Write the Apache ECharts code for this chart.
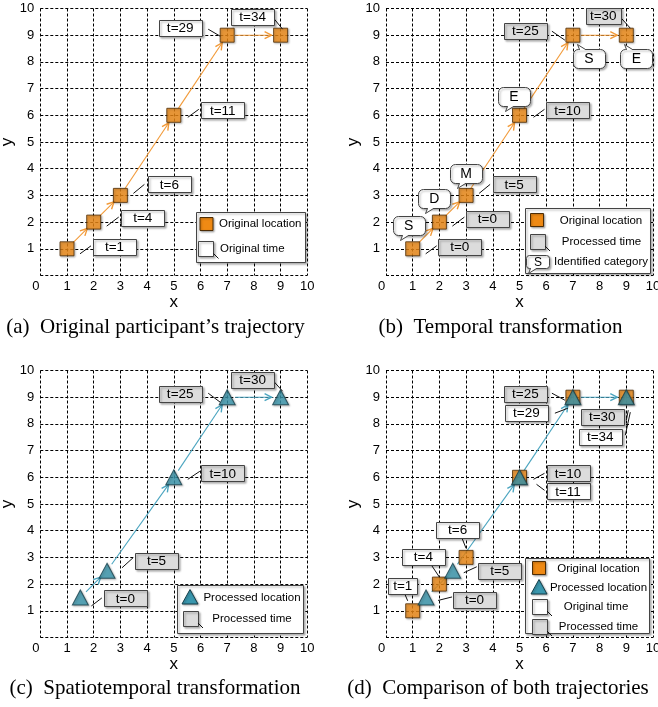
<!DOCTYPE html>
<html><head><meta charset="utf-8">
<script src="https://cdn.jsdelivr.net/npm/echarts@6/dist/echarts.min.js"></script>
<style>html,body{margin:0;padding:0;background:#fff}#c{width:658px;height:707px}</style>
</head><body><div id="c"></div>
<script>
// ---------------- data ----------------
const origX = [1, 2, 3, 5, 7, 9];
const origY = [1, 2, 3, 6, 9, 9];
const origTime = [1, 4, 6, 11, 29, 34];
const tempTime = [0, 0, 5, 10, 25, 30];
const tempCategory = ['S', 'D', 'M', 'E', 'S', 'E'];
const procX = [1.5, 2.5, 5, 7, 9];
const procY = [1.5, 2.5, 6, 9, 9];
const procTime = [0, 5, 10, 25, 30];
const captions = ['(a)  Original participant\u2019s trajectory', '(b)  Temporal transformation',
                  '(c)  Spatiotemporal transformation', '(d)  Comparison of both trajectories'];
const legendA = ['Original location', 'Original time'];
const legendB = ['Original location', 'Processed time', 'Identified category'];
const legendC = ['Processed location', 'Processed time'];
const legendD = ['Original location', 'Processed location', 'Original time', 'Processed time'];

// ---------------- styles / layout ----------------
const SANS = '"Liberation Sans", Arial, sans-serif';
const SERIF = '"Liberation Serif", "Times New Roman", serif';
const ORANGE = '#EF8A14', ORANGE_LINE = '#F29A38', ORANGE_EDGE = '#4d2c05';
const TEAL = '#3A97AE', TEAL_LINE = '#4BA5C0', TEAL_EDGE = '#163f4a';
const WHITE_BOX = '#ffffff', GRAY_BOX = '#dcdcdc';
const GRIDS = [
  {left: 40.3, top: 8.5, width: 267, height: 267},
  {left: 386, top: 8.5, width: 267, height: 267},
  {left: 40.3, top: 370.5, width: 267, height: 267},
  {left: 386, top: 370.5, width: 267, height: 267}
];
// callout layout: box centre offset from marker (px), box width, leader line offsets [x1,y1,x2,y2]
const LAY_A = [
  {dx: 47.5, dy: -2, w: 43, l: [13, 5, 24, -3]},
  {dx: 49, dy: -4, w: 43, l: [13, 4, 25, -5]},
  {dx: 49, dy: -11, w: 43, l: [13, -2, 24, -11]},
  {dx: 49, dy: -5, w: 43, l: [14, 2, 25, -6]},
  {dx: -47, dy: -7, w: 43, l: [-19, -6, -7, 1]},
  {dx: -28, dy: -18, w: 43, l: [-7, -17, 2, -6]}
];
const LAY_B = [
  {dx: 47, dy: -2, w: 43, l: [13, 5, 24, -3]},
  {dx: 48, dy: -3.5, w: 43, l: [13, 4, 25, -5]},
  {dx: 48, dy: -11, w: 43, l: [13, -2, 24, -11]},
  {dx: 48, dy: -5, w: 43, l: [14, 2, 25, -6]},
  {dx: -47.5, dy: -4, w: 43, l: [-21, -4, -8, 5]},
  {dx: -23, dy: -19, w: 35, l: [-5, -17, 4, -7]}
];
const LAY_BUBBLE = [
  {dx: -4, dy: -23, side: 'bottom'},
  {dx: -5, dy: -23.5, side: 'bottom'},
  {dx: 0, dy: -22, side: 'bottom'},
  {dx: -5.5, dy: -19, side: 'bottom'},
  {dx: 16, dy: 23, side: 'top'},
  {dx: 10, dy: 23, side: 'top'}
];
const LAY_C = [
  {dx: 45, dy: 1, w: 43, l: [11, 8.5, 21.5, 0.5]},
  {dx: 49.5, dy: -10, w: 43, l: [15, -3, 26, -13]},
  {dx: 49, dy: -4, w: 43, l: [14, 2, 26, -6]},
  {dx: -47, dy: -3, w: 43, l: [-19, -4, -7, 5]},
  {dx: -28, dy: -17, w: 43, l: [-7, -16, 2, -6]}
];
const LAY_D_ORIG = [
  {dx: -10, dy: -25, w: 29, l: [-8, -17, -5, -10]},
  {dx: -16, dy: -27.5, w: 43, l: [-8, -19, 0, -7]},
  {dx: -8.5, dy: -27.5, w: 43, l: [-4, -19, 0, -9]},
  {dx: 48.5, dy: 14, w: 43, l: [17, 7, 25, 13]},
  {dx: -46.5, dy: 16, w: 43, l: [-18, 16, -5, 11]},
  {dx: -26, dy: 40, w: 43, l: [4, 15, -1, 38]}
];
const LAY_D_PROC = [
  {dx: 48.5, dy: 2.5, w: 43, l: [12, 3, 26, -0.5]},
  {dx: 47, dy: 0, w: 43, l: [11, 2, 24, -4]},
  {dx: 48.5, dy: -4, w: 43, l: [14, 2, 25, -4]},
  {dx: -47.5, dy: -3, w: 43, l: [-21, -4, -8, 3]},
  {dx: -24, dy: 20, w: 43, l: [2, 13, 0, 23]}
];

const SHADOW = {shadowBlur: 2, shadowOffsetX: 1.5, shadowOffsetY: 1.5, shadowColor: 'rgba(0,0,0,0.3)'};

// ---------------- helpers ----------------
function xAxisFor(i) {
  return {
    type: 'value', gridIndex: i, min: 0, max: 10, interval: 1,
    name: 'x', nameLocation: 'middle', nameGap: 11,
    nameTextStyle: {fontSize: 17, color: '#000', fontFamily: SANS},
    axisLine: {show: false}, axisTick: {show: false},
    splitLine: {show: true, lineStyle: {color: '#000', width: 1, type: [3, 2]}},
    axisLabel: {
      color: '#000', fontSize: 13, fontFamily: SANS, margin: 4,
      formatter: v => v === 0 ? '{z|0}' : String(v),
      rich: {z: {padding: [0, 9, 0, 0], fontSize: 13, fontFamily: SANS, color: '#000'}}
    }
  };
}
function yAxisFor(i) {
  return {
    type: 'value', gridIndex: i, min: 0, max: 10, interval: 1,
    name: 'y', nameLocation: 'middle', nameGap: 16,
    nameTextStyle: {fontSize: 17, color: '#000', fontFamily: SANS},
    axisLine: {show: false}, axisTick: {show: false},
    splitLine: {show: true, lineStyle: {color: '#000', width: 1, type: [3, 2]}},
    axisLabel: {color: '#000', fontSize: 13, fontFamily: SANS, margin: 6,
      formatter: v => v === 0 ? '' : String(v)}
  };
}
function segments(xs, ys) {
  const out = [];
  for (let i = 0; i < xs.length - 1; i++) out.push([xs[i], ys[i], xs[i + 1], ys[i + 1]]);
  return out;
}
function arrowSeries(g, xs, ys, color) {
  return {
    type: 'custom', xAxisIndex: g, yAxisIndex: g, z: 3, clip: false,
    encode: {x: [0, 2], y: [1, 3]},
    data: segments(xs, ys),
    renderItem: function (params, api) {
      const a = api.coord([api.value(0), api.value(1)]);
      const b = api.coord([api.value(2), api.value(3)]);
      const dx = b[0] - a[0], dy = b[1] - a[1];
      const len = Math.sqrt(dx * dx + dy * dy);
      const ux = dx / len, uy = dy / len;
      const s = [a[0] + ux * 8, a[1] + uy * 8];
      const e = [b[0] - ux * 9, b[1] - uy * 9];
      const hl = 7, hw = 3.5;
      const p1 = [e[0] - ux * hl - uy * hw, e[1] - uy * hl + ux * hw];
      const p2 = [e[0] - ux * hl + uy * hw, e[1] - uy * hl - ux * hw];
      return {type: 'group', children: [
        {type: 'line', shape: {x1: s[0], y1: s[1], x2: e[0], y2: e[1]}, style: {stroke: color, lineWidth: 1.1}},
        {type: 'polyline', shape: {points: [p1, e, p2]}, style: {stroke: color, lineWidth: 1.4, fill: null}}
      ]};
    }
  };
}
function markerSeries(g, xs, ys, kind) {
  const sq = kind === 'square';
  return {
    type: 'scatter', xAxisIndex: g, yAxisIndex: g, z: sq ? 5 : 6, silent: true,
    symbol: sq ? 'rect' : 'triangle', symbolSize: sq ? 14 : [16, 15],
    itemStyle: {color: sq ? ORANGE : TEAL, borderColor: sq ? ORANGE_EDGE : TEAL_EDGE, borderWidth: 1,
      shadowBlur: 2, shadowOffsetX: 1, shadowOffsetY: 1, shadowColor: 'rgba(0,0,0,0.3)'},
    data: xs.map((x, i) => [x, ys[i]])
  };
}
function boxSeries(g, xs, ys, times, layout, fill) {
  return {
    type: 'custom', xAxisIndex: g, yAxisIndex: g, z: 8, clip: false,
    encode: {x: 0, y: 1},
    data: xs.map((x, i) => [x, ys[i], times[i]]),
    renderItem: function (params, api) {
      const L = layout[params.dataIndex];
      const p = api.coord([api.value(0), api.value(1)]);
      const cx = p[0] + L.dx, cy = p[1] + L.dy, w = L.w, h = 16;
      return {type: 'group', children: [
        {type: 'line', shape: {x1: p[0] + L.l[0], y1: p[1] + L.l[1], x2: p[0] + L.l[2], y2: p[1] + L.l[3]},
          style: {stroke: '#111', lineWidth: 1}},
        {type: 'rect', shape: {x: Math.round(cx - w / 2) + 0.5, y: Math.round(cy - h / 2) + 0.5, width: w, height: h},
          style: Object.assign({fill: fill, stroke: '#444', lineWidth: 1}, SHADOW)},
        {type: 'text', x: cx, y: cy + 0.5,
          style: {text: 't=' + api.value(2), fill: '#000', font: '13.5px ' + SANS, align: 'center', verticalAlign: 'middle'}}
      ]};
    }
  };
}
// speech bubble: rounded rect + small tail (built from rect/polygon/polyline primitives)
function bubbleParts(x, y, w, h, side, tx, r, z) {
  const td = 5, tw = 6;
  const base = side === 'top' ? y : y + h;
  const tip = side === 'top' ? y - td : y + h + td;
  const rect = {type: 'rect', shape: {x: x, y: y, width: w, height: h, r: r},
    style: Object.assign({fill: '#fff', stroke: '#444', lineWidth: 1}, SHADOW)};
  const tailFill = {type: 'polygon', shape: {points: [[x + tx, base], [x + tx - 2, tip], [x + tx + tw, base]]},
    style: {fill: '#fff', stroke: null}};
  const cover = {type: 'line', shape: {x1: x + tx + 0.5, y1: base, x2: x + tx + tw - 0.5, y2: base},
    style: {stroke: '#fff', lineWidth: 1.5}};
  const tailEdge = {type: 'polyline', shape: {points: [[x + tx, base], [x + tx - 2, tip], [x + tx + tw, base]]},
    style: {stroke: '#444', lineWidth: 1, fill: null}};
  const parts = [rect, tailFill, cover, tailEdge];
  if (z != null) parts.forEach(p => { p.z = z; });
  return parts;
}
function bubbleSeries(g, xs, ys, cats, layout) {
  return {
    type: 'custom', xAxisIndex: g, yAxisIndex: g, z: 9, clip: false,
    encode: {x: 0, y: 1},
    data: xs.map((x, i) => [x, ys[i]]),
    renderItem: function (params, api) {
      const L = layout[params.dataIndex];
      const p = api.coord([api.value(0), api.value(1)]);
      const w = 32, h = 19;
      const cx = p[0] + L.dx, cy = p[1] + L.dy;
      const x0 = Math.round(cx - w / 2) + 0.5, y0 = Math.round(cy - h / 2) + 0.5;
      const parts = bubbleParts(x0, y0, w, h, L.side, L.side === 'top' ? 6 : 9, 5);
      parts.push({type: 'text', x: cx, y: cy + 0.5,
        style: {text: cats[params.dataIndex], fill: '#000', font: '14px ' + SANS, align: 'center', verticalAlign: 'middle'}});
      return {type: 'group', children: parts};
    }
  };
}

// ---------- legend graphics ----------
function gRect(x, y, w, h, fill, shadow) {
  return {type: 'rect', shape: {x: x + 0.5, y: y + 0.5, width: w, height: h},
    style: Object.assign({fill: fill, stroke: '#444', lineWidth: 1}, shadow ? SHADOW : {}), z: 20};
}
function gSquare(cx, cy) {
  return {type: 'rect', shape: {x: cx - 6.5, y: cy - 6.5, width: 13, height: 13},
    style: {fill: ORANGE, stroke: ORANGE_EDGE, lineWidth: 1, shadowBlur: 2, shadowOffsetX: 1, shadowOffsetY: 1, shadowColor: 'rgba(0,0,0,0.3)'}, z: 21};
}
function gTriangle(cx, cy) {
  return {type: 'polygon', shape: {points: [[cx, cy - 7.5], [cx + 8, cy + 7], [cx - 8, cy + 7]]},
    style: {fill: TEAL, stroke: TEAL_EDGE, lineWidth: 1, shadowBlur: 2, shadowOffsetX: 1, shadowOffsetY: 1, shadowColor: 'rgba(0,0,0,0.3)'}, z: 21};
}
function gTimeBox(cx, cy, fill) {
  return [
    {type: 'rect', shape: {x: Math.round(cx - 7.5) + 0.5, y: Math.round(cy - 7.5) + 0.5, width: 15, height: 15},
      style: Object.assign({fill: fill, stroke: '#444', lineWidth: 1}, SHADOW), z: 21},
    {type: 'line', shape: {x1: cx + 8, y1: cy + 5, x2: cx + 13, y2: cy + 10}, style: {stroke: '#111', lineWidth: 1}, z: 21}
  ];
}
function gText(x, y, text, align) {
  return {type: 'text', x: x, y: y, z: 22,
    style: {text: text, fill: '#000', font: '11.5px ' + SANS, align: align || 'left', verticalAlign: 'middle'}};
}
function gCaption(x, y, text) {
  return {type: 'text', x: x, y: y, z: 22,
    style: {text: text, fill: '#000', font: '21px ' + SERIF, align: 'center', verticalAlign: 'middle'}};
}

const graphic = [].concat(
  // legend (a)
  [gRect(196, 212, 109, 50, '#fff', true), gSquare(206.5, 224), gText(219, 224, legendA[0])],
  gTimeBox(205.5, 248.5, WHITE_BOX), [gText(220, 249, legendA[1])],
  // legend (b)
  [gRect(525, 208, 125, 65, '#fff', true), gSquare(537, 220), gText(601, 221, legendB[0], 'center')],
  gTimeBox(537, 241, GRAY_BOX), [gText(601.5, 241.5, legendB[1], 'center')],
  bubbleParts(526.5, 255.5, 23, 13, 'bottom', 4, 3, 21),
  [{type: 'text', x: 538, y: 262.5, z: 22, style: {text: tempCategory[0], fill: '#000', font: '12px ' + SANS, align: 'center', verticalAlign: 'middle'}},
   gText(601, 261.5, legendB[2], 'center')],
  // legend (c)
  [gRect(177, 585, 126, 48, '#fff', true), gTriangle(190, 597), gText(252, 598, legendC[0], 'center')],
  gTimeBox(190, 618, GRAY_BOX), [gText(252, 618.5, legendC[1], 'center')],
  // legend (d)
  [gRect(525, 558, 124, 75, '#fff', true), gSquare(539, 568), gText(598.5, 568.5, legendD[0], 'center'),
   gTriangle(539, 587), gText(598.5, 587.5, legendD[1], 'center')],
  gTimeBox(539, 606, WHITE_BOX), [gText(596, 606.5, legendD[2], 'center')],
  gTimeBox(539, 626, GRAY_BOX), [gText(598.5, 626.5, legendD[3], 'center')],
  // captions
  [gCaption(155.5, 327, captions[0]), gCaption(500.5, 327, captions[1]),
   gCaption(155, 688, captions[2]), gCaption(498, 688, captions[3])]
);

const option = {
  animation: false,
  backgroundColor: '#fff',
  grid: GRIDS.map(g => Object.assign({containLabel: false, outerBoundsMode: 'none'}, g)),
  xAxis: [0, 1, 2, 3].map(xAxisFor),
  yAxis: [0, 1, 2, 3].map(yAxisFor),
  graphic: graphic,
  series: [
    // (a)
    arrowSeries(0, origX, origY, ORANGE_LINE),
    markerSeries(0, origX, origY, 'square'),
    boxSeries(0, origX, origY, origTime, LAY_A, WHITE_BOX),
    // (b)
    arrowSeries(1, origX, origY, ORANGE_LINE),
    markerSeries(1, origX, origY, 'square'),
    boxSeries(1, origX, origY, tempTime, LAY_B, GRAY_BOX),
    bubbleSeries(1, origX, origY, tempCategory, LAY_BUBBLE),
    // (c)
    arrowSeries(2, procX, procY, TEAL_LINE),
    markerSeries(2, procX, procY, 'triangle'),
    boxSeries(2, procX, procY, procTime, LAY_C, GRAY_BOX),
    // (d)
    arrowSeries(3, procX, procY, TEAL_LINE),
    markerSeries(3, origX, origY, 'square'),
    markerSeries(3, procX, procY, 'triangle'),
    boxSeries(3, origX, origY, origTime, LAY_D_ORIG, WHITE_BOX),
    boxSeries(3, procX, procY, procTime, LAY_D_PROC, GRAY_BOX)
  ]
};
const chart = echarts.init(document.getElementById('c'), null, {renderer: 'canvas'});
chart.setOption(option);
</script>
</body></html>
